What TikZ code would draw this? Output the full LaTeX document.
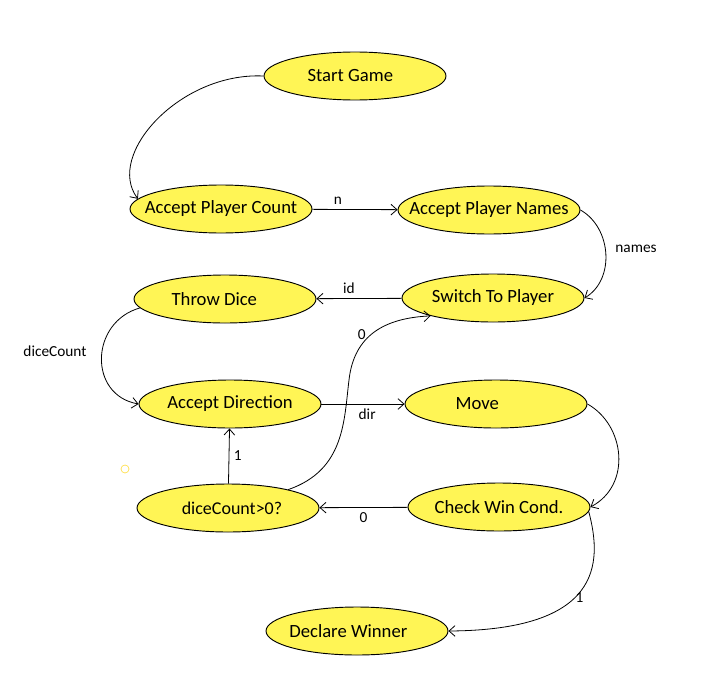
\documentclass[tikz,border=0pt]{standalone}
\usepackage{fontspec}
\setmainfont{Carlito}
\usetikzlibrary{shapes.geometric,arrows.meta}
\definecolor{stateyellow}{RGB}{255,245,85}
% fixed-size ellipses: the text takes no room
\newcommand{\stxt}[1]{\makebox[0pt]{#1}}
\begin{document}
\begin{tikzpicture}[x=0.75pt, y=-0.75pt,
    state/.style={ellipse, draw, line width=0.7pt, fill=stateyellow, minimum width=136.5pt, minimum height=36pt, inner sep=0pt, font=\fontsize{14}{16}\selectfont},
    edge/.style={line width=0.6pt, -{Straight Barb[length=4.5pt, width=8pt]}},
    lbl/.style={font=\fontsize{11.5}{13}\selectfont}]
    \useasboundingbox (0, 0) rectangle (727, 674);

    \node[state] (start) at (355, 76) {\stxt{Start Game\kern7pt}};
    \node[state] (count) at (221, 209) {\stxt{Accept Player Count}};
    \node[state] (names) at (489, 210) {\stxt{Accept Player Names}};
    \node[state] (throw) at (225, 299) {\stxt{Throw Dice\kern16pt}};
    \node[state] (switch) at (493, 298) {\stxt{Switch To Player}};
    \node[state] (dir) at (230, 404) {\stxt{Accept Direction}};
    \node[state] (move) at (496, 404) {\stxt{Move\kern28pt}};
    \node[state] (check) at (499, 507) {\stxt{Check Win Cond.}};
    \node[state, font=\fontsize{13.5}{15}\selectfont] (dice) at (228, 508) {\stxt{\kern6pt diceCount>0?}};
    \node[state] (winner) at (357, 631) {\stxt{Declare Winner\kern13pt}};

    \draw[edge] (start.west) .. controls (180, 72) and (105, 155) .. (count.173);
    \draw[edge] (count) -- node[lbl, above, pos=0.3] {n} (names);
    \draw[edge] (names.east) .. controls (612, 228) and (615, 280) .. node[lbl, right, pos=0.45, xshift=4pt] {names} (switch.east);
    \draw[edge] (switch) -- node[lbl, above, pos=0.62] {id} (throw);
    \draw[edge] (throw.186) .. controls (90, 322) and (88, 395) .. node[lbl, left, pos=0.45, xshift=-8pt] {diceCount} (dir.west);
    \draw[edge] (dir) -- node[lbl, below, pos=0.55] {dir} (move);
    \draw[edge] (move.east) .. controls (625, 425) and (632, 485) .. (check.east);
    \draw[edge] (check) -- node[lbl, below] {0} (dice);
    \draw[edge] (dice) -- node[lbl, right] {1} (dir);
    \draw[edge] (dice.17) .. controls (345, 470) and (344, 420) .. (349, 380)
        .. controls (354, 335) and (385, 318) .. node[lbl, left, pos=0.45] {0} (switch.196);
    \draw[edge] (check.357) .. controls (603, 565) and (600, 630) .. node[lbl, right, pos=0.55, xshift=-3pt] {1} (winner.east);

    \draw[stateyellow!80!orange, line width=0.5pt] (125, 469) circle (3pt);
\end{tikzpicture}
\end{document}
